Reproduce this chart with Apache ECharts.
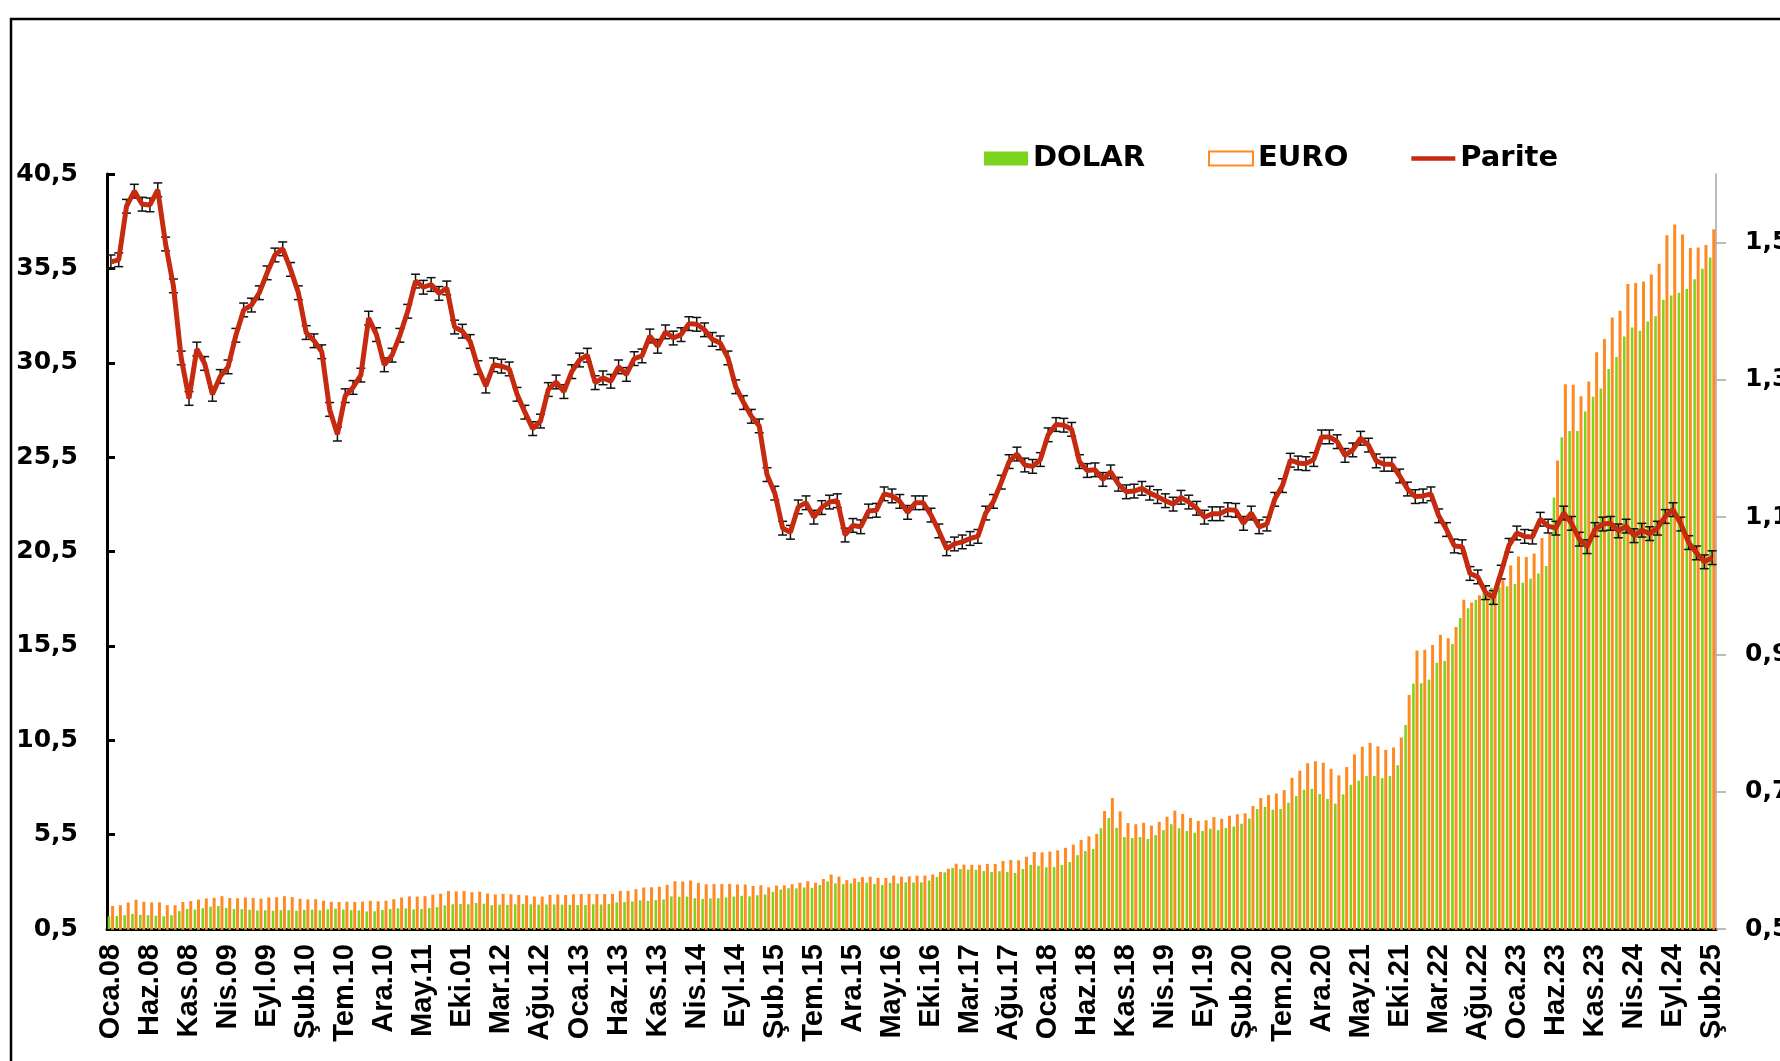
<!DOCTYPE html>
<html>
<head>
<meta charset="utf-8">
<script src="https://cdn.jsdelivr.net/npm/echarts@6/dist/echarts.min.js"></script>
<style>
html,body{margin:0;padding:0;background:#fff;}
#c{width:1780px;height:1061px;}
</style>
</head>
<body>
<div id="c"></div>
<script>
// Month abbreviations (Turkish) and shown tick labels (as in the original, incl. "Eki.01")
const months = ['Oca','Şub','Mar','Nis','May','Haz','Tem','Ağu','Eyl','Eki','Kas','Ara'];
const tickLabels = ['Oca.08','Haz.08','Kas.08','Nis.09','Eyl.09','Şub.10','Tem.10','Ara.10','May.11','Eki.01',
  'Mar.12','Ağu.12','Oca.13','Haz.13','Kas.13','Nis.14','Eyl.14','Şub.15','Tem.15','Ara.15',
  'May.16','Eki.16','Mar.17','Ağu.17','Oca.18','Haz.18','Kas.18','Nis.19','Eyl.19','Şub.20',
  'Tem.20','Ara.20','May.21','Eki.21','Mar.22','Ağu.22','Oca.23','Haz.23','Kas.23','Nis.24',
  'Eyl.24','Şub.25'];

const dolar = [
  1.17,1.19,1.23,1.30,1.25,1.23,1.21,1.17,1.23,1.45,1.56,1.53,
  1.60,1.68,1.72,1.62,1.56,1.55,1.52,1.48,1.49,1.47,1.50,1.50,
  1.47,1.51,1.53,1.49,1.54,1.58,1.53,1.50,1.49,1.43,1.44,1.51,
  1.56,1.59,1.59,1.54,1.56,1.61,1.66,1.75,1.81,1.83,1.81,1.88,
  1.84,1.76,1.79,1.78,1.81,1.82,1.81,1.79,1.80,1.80,1.79,1.78,
  1.77,1.77,1.81,1.80,1.82,1.91,1.93,1.96,2.02,1.99,2.03,2.07,
  2.23,2.21,2.22,2.13,2.09,2.12,2.13,2.17,2.22,2.26,2.23,2.29,
  2.33,2.47,2.59,2.66,2.65,2.70,2.68,2.83,3.02,2.92,2.88,2.92,
  2.99,2.95,2.89,2.83,2.94,2.91,2.97,2.96,2.97,3.07,3.26,3.50,
  3.73,3.67,3.65,3.64,3.57,3.52,3.56,3.52,3.47,3.68,3.90,3.85,
  3.77,3.78,3.89,4.05,4.41,4.63,4.74,5.84,6.38,5.86,5.37,5.32,
  5.37,5.27,5.47,5.74,6.05,5.84,5.69,5.60,5.69,5.82,5.74,5.85,
  5.93,6.08,6.35,6.85,6.97,6.82,6.86,7.19,7.54,7.88,7.93,7.65,
  7.39,7.14,7.63,8.14,8.36,8.60,8.61,8.49,8.60,9.18,11.31,13.50,
  13.52,13.71,14.60,14.70,15.60,16.98,17.49,17.95,18.30,18.58,18.61,18.66,
  18.78,18.85,19.05,19.34,19.73,23.36,26.55,26.89,26.89,27.92,28.70,29.14,
  30.17,30.80,31.89,32.37,32.19,32.69,32.97,33.84,34.06,34.21,34.41,34.93,
  35.48,36.08
];

const euro = [
  1.72,1.76,1.91,2.05,1.94,1.91,1.91,1.76,1.76,1.93,1.98,2.06,
  2.12,2.15,2.24,2.14,2.13,2.17,2.14,2.11,2.17,2.18,2.24,2.19,
  2.10,2.07,2.08,2.00,1.94,1.93,1.95,1.93,1.95,1.99,1.97,2.00,
  2.08,2.17,2.23,2.22,2.24,2.32,2.37,2.51,2.49,2.51,2.45,2.48,
  2.38,2.33,2.36,2.34,2.31,2.28,2.22,2.22,2.31,2.33,2.30,2.34,
  2.35,2.36,2.35,2.35,2.36,2.52,2.52,2.61,2.70,2.71,2.74,2.84,
  3.03,3.02,3.07,2.94,2.87,2.88,2.88,2.89,2.86,2.86,2.78,2.82,
  2.71,2.80,2.81,2.87,2.95,3.03,2.95,3.15,3.39,3.28,3.09,3.18,
  3.25,3.27,3.21,3.21,3.33,3.27,3.29,3.32,3.33,3.39,3.52,3.69,
  3.96,3.91,3.90,3.90,3.95,3.95,4.10,4.16,4.14,4.33,4.58,4.56,
  4.60,4.67,4.80,4.97,5.21,5.41,5.54,6.75,7.44,6.73,6.11,6.05,
  6.13,5.98,6.18,6.45,6.77,6.59,6.38,6.23,6.26,6.43,6.34,6.50,
  6.58,6.63,7.02,7.44,7.60,7.68,7.86,8.51,8.89,9.28,9.39,9.31,
  8.99,8.64,9.08,9.75,10.16,10.36,10.18,9.99,10.12,10.65,12.90,15.26,
  15.29,15.55,16.09,15.91,16.50,17.95,17.80,18.18,18.12,18.26,18.98,19.76,
  20.23,20.21,20.40,21.22,21.45,25.32,29.36,29.34,28.72,29.51,31.05,31.76,
  32.90,33.25,34.67,34.73,34.80,35.17,35.75,37.26,37.83,37.30,36.58,36.60,
  36.74,37.57
];

const parite = [
  1.472,1.475,1.553,1.575,1.556,1.555,1.577,1.498,1.437,1.332,1.273,1.345,
  1.324,1.279,1.305,1.319,1.365,1.402,1.409,1.427,1.456,1.482,1.491,1.461,
  1.427,1.369,1.357,1.341,1.257,1.221,1.277,1.289,1.307,1.390,1.366,1.322,
  1.336,1.365,1.400,1.444,1.435,1.439,1.426,1.434,1.377,1.371,1.356,1.318,
  1.291,1.322,1.320,1.316,1.279,1.253,1.229,1.240,1.286,1.297,1.283,1.312,
  1.329,1.336,1.296,1.303,1.298,1.319,1.308,1.331,1.335,1.364,1.349,1.370,
  1.361,1.366,1.382,1.381,1.373,1.359,1.354,1.332,1.290,1.267,1.247,1.233,
  1.162,1.135,1.084,1.078,1.115,1.121,1.100,1.114,1.122,1.124,1.074,1.088,
  1.086,1.109,1.110,1.134,1.131,1.123,1.107,1.121,1.121,1.103,1.080,1.054,
  1.061,1.064,1.069,1.072,1.106,1.123,1.151,1.181,1.192,1.176,1.174,1.184,
  1.220,1.235,1.234,1.228,1.181,1.168,1.169,1.155,1.166,1.148,1.137,1.138,
  1.142,1.135,1.130,1.124,1.119,1.129,1.122,1.113,1.100,1.105,1.105,1.111,
  1.110,1.091,1.106,1.086,1.090,1.126,1.146,1.183,1.179,1.178,1.184,1.217,
  1.217,1.210,1.190,1.198,1.215,1.205,1.182,1.177,1.177,1.160,1.141,1.130,
  1.131,1.134,1.102,1.082,1.058,1.057,1.018,1.013,0.990,0.983,1.020,1.059,
  1.077,1.072,1.071,1.097,1.087,1.084,1.106,1.091,1.068,1.057,1.082,1.090,
  1.091,1.080,1.087,1.073,1.081,1.076,1.084,1.101,1.111,1.090,1.063,1.048,
  1.035,1.041
];

const pariteHata = 0.01;           // half-height of the error bars on Parite
const rightTicks = [0.5,0.7,0.9,1.1,1.3,1.5];

// categories: Oca.08 ... Şub.25
const categories = [];
for (let y = 2008; y <= 2025; y++) {
  for (let m = 0; m < 12; m++) {
    if (categories.length >= dolar.length) break;
    categories.push(months[m] + '.' + String(y).slice(2));
  }
}

const fmt = v => v.toFixed(1).replace('.', ',');
const boldH = {fontFamily:'DejaVu Sans', fontWeight:'bold', fontSize:25, color:'#000'};

const chart = echarts.init(document.getElementById('c'), null, {renderer:'canvas'});
chart.setOption({
  animation: false,
  backgroundColor: '#fff',
  graphic: [{
    type:'rect', silent:true, z:-10,
    shape:{x:11, y:19, width:2000, height:2000},
    style:{fill:'none', stroke:'#000', lineWidth:2.5}
  }],
  legend: {
    left: 979, top: 139,
    itemWidth: 44, itemHeight: 14, itemGap: 63,
    textStyle: {fontFamily:'DejaVu Sans', fontWeight:'bold', fontSize:29, color:'#000'},
    data: [
      {name:'DOLAR', icon:'rect'},
      {name:'EURO', icon:'rect'},
      {name:'Parite', icon:'path://M0,0 L40,0 L40,4 L0,4 Z'}
    ]
  },
  grid: {left:107, right:64, top:174, bottom:132, containLabel:false, outerBoundsMode:'none'},
  xAxis: {
    type:'category', data:categories, boundaryGap:true,
    axisLine:{lineStyle:{color:'#000', width:3}},
    axisTick:{interval:0, length:9, lineStyle:{color:'#000', width:2}},
    axisLabel:{
      interval:4, rotate:90, margin:15,
      fontFamily:'Liberation Sans, Arial, sans-serif', fontWeight:'bold', fontSize:29, color:'#000',
      formatter:(v, i) => tickLabels[Math.round(i/5)]
    },
    splitLine:{show:false}
  },
  yAxis: [
    {
      type:'value', position:'left', min:0.5, max:40.5, interval:5,
      splitLine:{show:false},
      axisLine:{show:true, lineStyle:{color:'#000', width:3}},
      axisTick:{show:true, inside:true, length:8, lineStyle:{color:'#000', width:3}},
      axisLabel:Object.assign({margin:29, formatter:fmt}, boldH)
    },
    {
      type:'value', position:'right', min:0.5, max:1.6, interval:0.2,
      splitLine:{show:false},
      axisLine:{show:true, lineStyle:{color:'#a6a6a6', width:1.5}},
      axisTick:{show:true, length:10, customValues:rightTicks, lineStyle:{color:'#a6a6a6', width:1.5}},
      axisLabel:Object.assign({margin:29, customValues:rightTicks,
        formatter:v => (Math.abs(v-1.6) < 1e-6 ? '' : fmt(v))}, boldH)
    }
  ],
  series: [
    {
      name:'DOLAR', type:'bar', yAxisIndex:0, data:dolar,
      barWidth:2.6, barGap:'30%',
      itemStyle:{color:'#7ED31E'}
    },
    {
      name:'EURO', type:'bar', yAxisIndex:0, data:euro,
      barWidth:3,
      itemStyle:{color:'#ffffff', borderColor:'#FF8A22', borderWidth:1.5}
    },
    {
      name:'hata', type:'custom', yAxisIndex:1, z:3,
      data: parite.map((v, i) => [i, v]),
      renderItem: function (params, api) {
        const i = api.value(0), v = api.value(1);
        const x = api.coord([i, v])[0];
        const top = api.coord([i, v + pariteHata])[1];
        const bot = api.coord([i, v - pariteHata])[1];
        const hw = 4.5;
        const st = {stroke:'#111', lineWidth:1.5};
        return {type:'group', children:[
          {type:'line', shape:{x1:x, y1:top, x2:x, y2:bot}, style:st},
          {type:'line', shape:{x1:x-hw, y1:top, x2:x+hw, y2:top}, style:st},
          {type:'line', shape:{x1:x-hw, y1:bot, x2:x+hw, y2:bot}, style:st}
        ]};
      }
    },
    {
      name:'Parite', type:'line', yAxisIndex:1, data:parite, z:5,
      symbol:'none', smooth:false,
      lineStyle:{color:'#C62B10', width:5},
      itemStyle:{color:'#C62B10'}
    }
  ]
});
</script>
</body>
</html>
